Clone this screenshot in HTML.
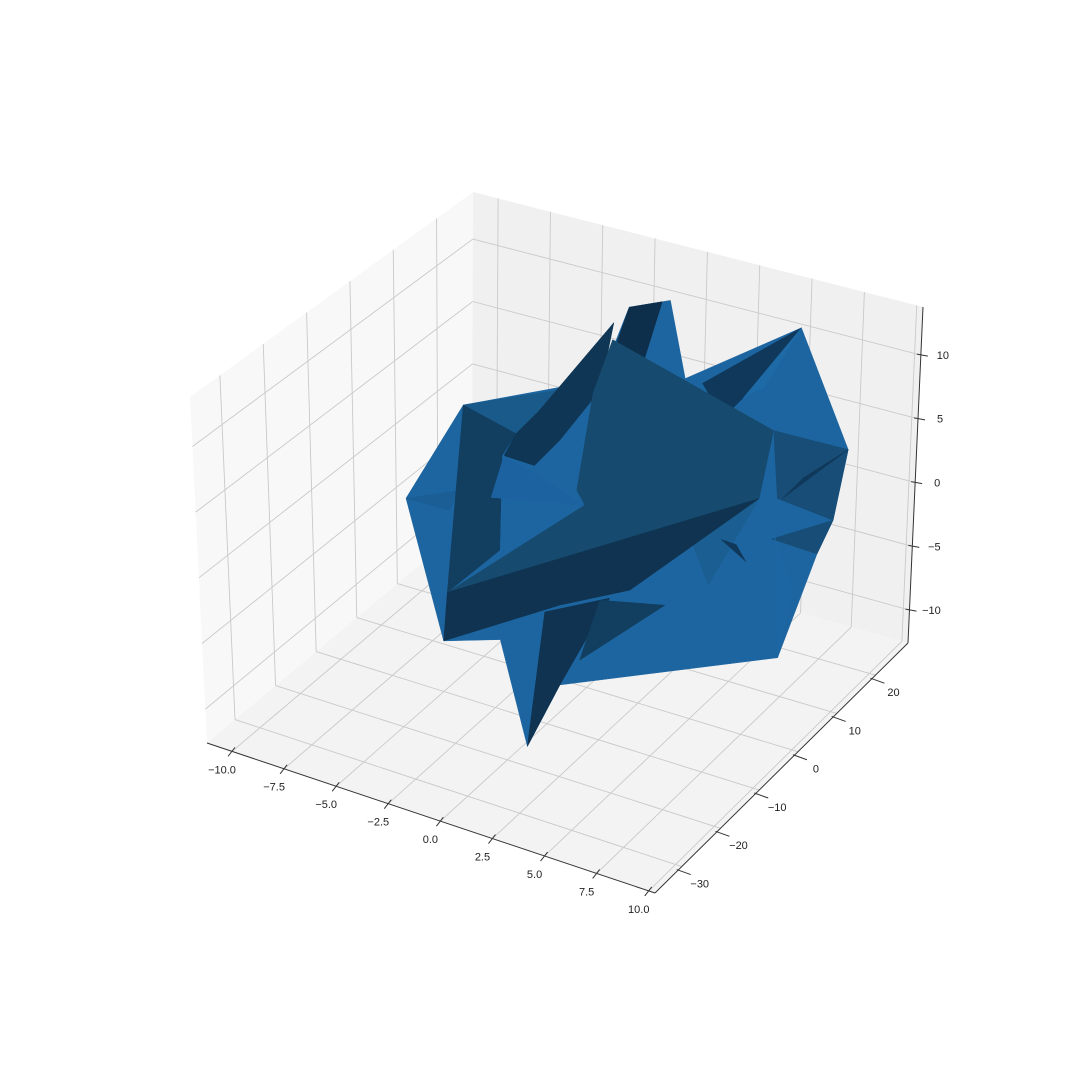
<!DOCTYPE html>
<html><head><meta charset="utf-8"><style>
html,body{margin:0;padding:0;background:#fff}
svg text{font-family:"Liberation Sans","DejaVu Sans",sans-serif;font-size:11px;fill:#222}
</style></head><body>
<svg id="chart" width="1080" height="1080" viewBox="0 0 1080 1080" xmlns="http://www.w3.org/2000/svg">
<g id="panes"></g>
<g id="grid"></g>
<g id="surface"></g>
<g id="axes"></g>
</svg>
<script>
const xTicks = [-10, -7.5, -5, -2.5, 0, 2.5, 5, 7.5, 10];
const yTicks = [-30, -20, -10, 0, 10, 20];
const zTicks = [-10, -5, 0, 5, 10];
const xLim = [-11.2, 10.3];
const yLim = [-36.9, 28.4];
const zLim = [-12.58, 13.77];
// surface faces in data coordinates (all at y = 0 depth)
const faceX = [
  [-8.70,-5.89,0.63,1.98,3.91,4.64,10.05,12.37,11.74,11.01,9.23,-1.30,-2.90,-4.20,-6.96],
  [1.98,3.53,2.56,0.63],
  [1.26,-1.30,0.63],
  [10.05,5.46,6.43,7.39],
  [10.05,7.39,8.36],
  [12.37,8.84,9.08,11.74],
  [12.37,9.32,10.29],
  [11.74,8.84,11.01],
  [8.84,9.23,9.90,8.99],
  [-8.70,-6.14,-6.62],
  [-5.89,0.14,-1.30,-3.38],
  [-3.38,-2.27,1.26,0.63,-1.30,-2.51,-3.96],
  [-5.89,-3.38,-4.06,-4.20,-6.76],
  [-4.59,-3.96,-0.10],
  [1.21,8.84,8.21,-6.76,-0.10,-0.48,0.29],
  [8.21,5.85,4.98],
  [6.43,7.63,7.15],
  [-6.76,8.21,2.08,-1.30,-6.96],
  [-2.90,-2.03,1.11,-1.30],
  [0.63,3.77,-0.34]
];
const faceZ = [
  [-2.06,6.51,11.39,17.57,18.93,13.26,19.48,11.25,5.63,2.75,-5.94,-13.01,-18.54,-10.90,-12.34],
  [17.57,18.67,13.06,10.62],
  [16.07,8.94,11.39],
  [19.48,13.26,11.02,13.0],
  [19.48,13.0,14.23],
  [11.25,11.14,6.09,5.63],
  [11.25,6.2,8.2],
  [5.63,2.9,2.75],
  [11.14,-5.94,-0.46,2.97],
  [-2.06,-0.25,-2.01],
  [6.51,10.77,8.17,5.43],
  [5.43,7.72,16.07,10.62,5.86,3.37,3.47],
  [6.51,5.43,3.42,-3.97,-8.47],
  [-0.06,3.47,1.42],
  [14.74,11.14,5.69,-8.47,1.42,2.40,10.23],
  [5.69,-1.97,1.09],
  [1.77,0.63,1.72],
  [-8.47,5.69,-4.11,-6.85,-12.34],
  [-18.54,-7.73,-5.18,-13.01],
  [-5.56,-4.48,-10.64]
];
const faceShade = ['#1d65a0','#0d2f4b','#0f3654','#10385a','#1d6aa6','#174d76','#10385a','#174d76','#1c66a3','#1a5e95','#1a5a8a','#0f3654','#123e60','#1d62a0','#164a6e','#1b5f92','#10385a','#0f3350','#0f3350','#123f60'];

const BOT=[[207,743],[655,893],[908,643],[472,521]];
const TOP=[[190,397],[652,531],[923,307],[473,192]];
function bil(c,u,v){const a=(1-u)*(1-v),b=u*(1-v),d=u*v,e=(1-u)*v;
return [a*c[0][0]+b*c[1][0]+d*c[2][0]+e*c[3][0], a*c[0][1]+b*c[1][1]+d*c[2][1]+e*c[3][1]];}
function P(x,y,z){const u=(x-xLim[0])/(xLim[1]-xLim[0]),v=(y-yLim[0])/(yLim[1]-yLim[0]),w=(z-zLim[0])/(zLim[1]-zLim[0]);
const b=bil(BOT,u,v),t=bil(TOP,u,v);return [b[0]+(t[0]-b[0])*w,b[1]+(t[1]-b[1])*w];}
const NS='http://www.w3.org/2000/svg';
function mk(tag,attrs,parent){const e=document.createElementNS(NS,tag);for(const k in attrs)e.setAttribute(k,attrs[k]);parent.appendChild(e);return e;}
function pts(a){return a.map(p=>p[0].toFixed(1)+','+p[1].toFixed(1)).join(' ');}
const panes=document.getElementById('panes'),grid=document.getElementById('grid'),surf=document.getElementById('surface'),axes=document.getElementById('axes');
const [x0,x1]=xLim,[y0,y1]=yLim,[z0,z1]=zLim;
let p=mk('polygon',{points:pts([P(x0,y0,z0),P(x0,y1,z0),P(x0,y1,z1),P(x0,y0,z1)]),fill:'#f8f8f8'},panes);


p=mk('polygon',{points:pts([P(x0,y1,z0),P(x1,y1,z0),P(x1,y1,z1),P(x0,y1,z1)]),fill:'#f0f0f0'},panes);


p=mk('polygon',{points:pts([P(x0,y0,z0),P(x1,y0,z0),P(x1,y1,z0),P(x0,y1,z0)]),fill:'#f3f3f3'},panes);


function gl(a,b){const l=mk('line',{x1:a[0],y1:a[1],x2:b[0],y2:b[1],stroke:'#c9c9c9','stroke-width':0.9},grid);

}
xTicks.forEach(x=>{gl(P(x,y0,z0),P(x,y1,z0));gl(P(x,y1,z0),P(x,y1,z1));});
yTicks.forEach(y=>{gl(P(x0,y,z0),P(x1,y,z0));gl(P(x0,y,z0),P(x0,y,z1));});
zTicks.forEach(z=>{gl(P(x0,y0,z),P(x0,y1,z));gl(P(x0,y1,z),P(x1,y1,z));});
faceX.forEach((fx,i)=>{const poly=mk('polygon',{points:pts(fx.map((x,j)=>P(x,0,faceZ[i][j]))),fill:faceShade[i],stroke:faceShade[i],'stroke-width':0.5},surf);

});
function al(a,b,name){const l=mk('line',{x1:a[0],y1:a[1],x2:b[0],y2:b[1],stroke:'#333','stroke-width':1},axes);

}
al(P(x0,y0,z0),P(x1,y0,z0),'x-axis-line');
al(P(x1,y0,z0),P(x1,y1,z0),'y-axis-line');
al(P(x1,y1,z0),P(x1,y1,z1),'z-axis-line');
function fmt(v,d){return (v<0?'\u2212':'')+Math.abs(v).toFixed(d);}
function tx(pos,s,anchor,name){const t=mk('text',{x:pos[0],y:pos[1],'text-anchor':anchor,'dominant-baseline':'middle'},axes);t.textContent=s;

}
xTicks.forEach(x=>{const a=P(x,y0,z0);al([a[0]+3,a[1]-4],[a[0]-4,a[1]+5],'x-tick');tx([a[0]-10,a[1]+19],fmt(x,1),'middle','x-tick-label');});
yTicks.forEach(y=>{const a=P(x1,y,z0);al([a[0]-5,a[1]+3],[a[0]+9,a[1]+8],'y-tick');tx([a[0]+18,a[1]+18],fmt(y,0),'middle','y-tick-label');});
zTicks.forEach(z=>{const a=P(x1,y1,z);al([a[0]-4,a[1]-1],[a[0]+7,a[1]+1],'z-tick');tx([a[0]+22,a[1]+1],fmt(z,0),'middle','z-tick-label');});
</script>
</body></html>
